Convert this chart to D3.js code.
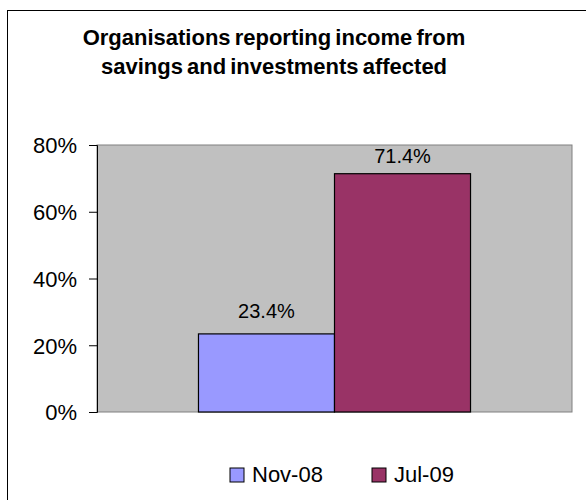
<!DOCTYPE html>
<html>
<head>
<meta charset="utf-8">
<style>
  body { margin: 0; background: #fff; }
  text { font-family: "Liberation Sans", Arial, sans-serif; fill: #000; }
  .title { font-weight: bold; font-size: 22px; word-spacing: -2px; }
  .tick-label { font-size: 22px; }
  .value-label { font-size: 20px; }
  .legend-label { font-size: 22px; }
</style>
</head>
<body>
<svg class="chart"></svg>
<script src="https://cdn.jsdelivr.net/npm/d3@7"></script>
<script>
  var titleLines = ["Organisations reporting income from", "savings and investments affected"];
  var series = ["Nov-08", "Jul-09"];
  var values = [0.234, 0.714];
  var colors = ["#9999ff", "#993366"];
  var yTicks = [0, 0.2, 0.4, 0.6, 0.8];

  var width = 586, height = 500;
  var plot = { left: 97, right: 572, top: 145, bottom: 412 };

  var svg = d3.select(".chart")
    .attr("width", width)
    .attr("height", height);

  // outer chart border (runs off the right and bottom of the picture)
  svg.append("rect")
    .attr("x", 7.5).attr("y", 10.5)
    .attr("width", 700).attr("height", 700)
    .attr("fill", "none")
    .attr("stroke", "#000");

  svg.selectAll(".title")
    .data(titleLines)
    .enter().append("text")
    .attr("class", "title")
    .attr("text-anchor", "middle")
    .attr("x", 274)
    .attr("y", function(d, i) { return 45 + i * 29; })
    .text(function(d) { return d; });

  var y = d3.scaleLinear().domain([0, 0.8]).range([plot.bottom, plot.top]);
  var x0 = d3.scaleBand().domain(["all"]).range([plot.left, plot.right])
    .paddingOuter(0.373);
  var x1 = d3.scaleBand().domain(series).range([0, x0.bandwidth()]);

  svg.append("rect")
    .attr("x", plot.left).attr("y", plot.top)
    .attr("width", plot.right - plot.left)
    .attr("height", plot.bottom - plot.top)
    .attr("fill", "#c0c0c0")
    .attr("stroke", "#808080");

  var axis = svg.append("g")
    .attr("transform", "translate(" + plot.left + ",0)")
    .call(d3.axisLeft(y).tickValues(yTicks).tickSize(8).tickFormat(d3.format(".0%")));
  axis.select(".domain").attr("stroke", "#000");
  axis.selectAll(".tick line").attr("stroke", "#000");
  axis.selectAll(".tick text")
    .attr("class", "tick-label")
    .attr("font-family", null).attr("font-size", null)
    .attr("x", -20).attr("dy", "0.36em")
    .attr("text-anchor", "end");

  var bars = svg.append("g")
    .attr("transform", "translate(" + x0("all") + ",0)");

  bars.selectAll("rect")
    .data(values)
    .enter().append("rect")
    .attr("x", function(d, i) { return x1(series[i]); })
    .attr("y", function(d) { return y(d); })
    .attr("width", x1.bandwidth())
    .attr("height", function(d) { return y(0) - y(d); })
    .attr("fill", function(d, i) { return colors[i]; })
    .attr("stroke", "#000")
    .attr("stroke-width", 1.2);

  // Excel keeps labels inside the plot area
  bars.selectAll(".value-label")
    .data(values)
    .enter().append("text")
    .attr("class", "value-label")
    .attr("text-anchor", "middle")
    .attr("x", function(d, i) { return x1(series[i]) + x1.bandwidth() / 2; })
    .attr("y", function(d) { return Math.max(y(d) - 16, plot.top + 18); })
    .text(function(d) { return d3.format(".1%")(d); });

  var legend = svg.append("g");
  var legendX = [230, 372];
  var items = legend.selectAll("g")
    .data(series)
    .enter().append("g")
    .attr("transform", function(d, i) { return "translate(" + legendX[i] + ",468)"; });
  items.append("rect")
    .attr("width", 14).attr("height", 14)
    .attr("fill", function(d, i) { return colors[i]; })
    .attr("stroke", "#000");
  items.append("text")
    .attr("class", "legend-label")
    .attr("x", 22).attr("y", 14)
    .text(function(d) { return d; });
</script>
</body>
</html>
